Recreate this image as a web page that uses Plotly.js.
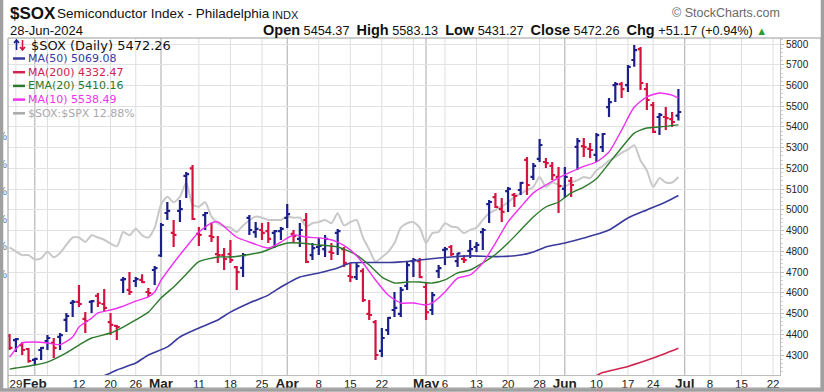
<!DOCTYPE html>
<html><head><meta charset="utf-8">
<script src="https://cdn.plot.ly/plotly-3.0.1.min.js"></script>
<style>html,body{margin:0;padding:0;background:#fff}#c{width:824px;height:392px}</style>
</head><body><div id="c"></div><script>
// ---------- DATA ----------
const tradingDays = {
  '2024-01':[26,29,30,31],
  '2024-02':[1,2,5,6,7,8,9,12,13,14,15,16,20,21,22,23,26,27,28,29],
  '2024-03':[1,4,5,6,7,8,11,12,13,14,15,18,19,20,21,22,25,26,27,28],
  '2024-04':[1,2,3,4,5,8,9,10,11,12,15,16,17,18,19,22,23,24,25,26,29,30],
  '2024-05':[1,2,3,6,7,8,9,10,13,14,15,16,17,20,21,22,23,24,28,29,30,31],
  '2024-06':[3,4,5,6,7,10,11,12,13,14,17,18,20,21,24,25,26,27,28]
};
const futureDays = {'2024-07':[1,2,3,5,8,9,10,11,12,15,16,17,18,19,22,23]};

const open = [4392,4372,4348,4329,4276,4324,4367,4358,4387,4469,4551,4556,4474,4556,4585,4546,4459,4440,4662,4614,
  4657,4662,4604,4710,4780,4985,4889,4995,5164,5200,4884,4975,4874,4787,4782,4787,4724,4720,4961,4893,
  4903,4898,4889,4898,4961,4884,4860,4951,4782,4821,4811,4797,4889,4811,4681,4676,4705,4498,4459,4320,
  4420,4517,4498,4633,4753,4753,4628,4517,4705,4807,4821,4753,4763,4802,4821,4893,5028,5062,5004,5091,
  5072,5096,5241,5159,5246,5231,5212,5159,5101,5140,5304,5308,5294,5265,5303,5496,5602,5607,5602,5723,
  5776,5583,5506,5448,5448,5438,5454.37];
const high = [4401,4382,4363,4334,4286,4339,4396,4382,4406,4503,4565,4638,4507,4565,4599,4618,4503,4445,4676,4700,
  4676,4690,4623,4729,4937,5038,4951,5048,5183,5217,4917,4990,4937,4874,4816,4855,4729,4792,4975,4942,
  4937,4942,4903,4917,5028,4903,4937,4985,4840,4865,4879,4840,4908,4821,4744,4744,4719,4565,4469,4430,
  4483,4604,4628,4749,4768,4768,4652,4604,4734,4821,4831,4792,4782,4855,4845,4913,5048,5082,5057,5110,
  5082,5135,5255,5226,5342,5250,5231,5207,5207,5159,5347,5347,5323,5371,5371,5540,5617,5617,5699,5795,
  5786,5612,5520,5467,5496,5472,5583.13];
const low = [4324,4314,4300,4262,4252,4276,4324,4286,4324,4411,4483,4531,4406,4503,4531,4507,4396,4372,4599,4589,
  4628,4647,4580,4638,4773,4951,4821,4942,5057,4951,4826,4903,4845,4744,4710,4744,4614,4676,4879,4865,
  4855,4840,4816,4855,4913,4840,4821,4744,4758,4782,4773,4758,4782,4724,4652,4662,4556,4469,4276,4290,
  4396,4483,4483,4614,4676,4671,4469,4493,4671,4734,4778,4724,4744,4768,4797,4807,4937,5009,4942,4990,
  5014,5072,5072,5144,5231,5202,5144,4985,5057,5062,5192,5255,5250,5231,5279,5448,5520,5540,5569,5690,
  5578,5482,5371,5361,5385,5400,5431.27];
const close = [4334,4377,4324,4271,4281,4334,4382,4334,4396,4488,4556,4546,4464,4560,4551,4527,4445,4435,4666,4604,
  4666,4652,4599,4719,4927,4995,4879,5004,5173,4956,4879,4985,4869,4782,4763,4758,4700,4782,4903,4908,
  4889,4860,4898,4908,4980,4874,4903,4749,4816,4826,4860,4792,4898,4744,4676,4729,4565,4493,4300,4382,
  4479,4527,4614,4734,4758,4676,4507,4589,4719,4811,4787,4790,4758,4811,4831,4903,5038,5014,4990,5101,
  5067,5130,5120,5212,5313,5226,5168,5115,5159,5120,5332,5303,5289,5361,5366,5520,5607,5583,5690,5771,
  5612,5530,5376,5458,5443,5424,5472.26];

const ma10Dates = ['2024-01-26','2024-01-30','2024-02-01','2024-02-05','2024-02-07','2024-02-09','2024-02-12','2024-02-14','2024-02-15','2024-02-20','2024-02-22','2024-02-26','2024-02-28','2024-02-29','2024-03-01','2024-03-05','2024-03-07','2024-03-11','2024-03-13','2024-03-14','2024-03-15','2024-03-19','2024-03-21','2024-03-26','2024-03-28','2024-04-02','2024-04-04','2024-04-09','2024-04-11','2024-04-15','2024-04-17','2024-04-19','2024-04-23','2024-04-25','2024-04-29','2024-05-01','2024-05-02','2024-05-06','2024-05-08','2024-05-10','2024-05-14','2024-05-16','2024-05-20','2024-05-22','2024-05-24','2024-05-29','2024-05-31','2024-06-04','2024-06-06','2024-06-10','2024-06-12','2024-06-14','2024-06-18','2024-06-21','2024-06-25','2024-06-27','2024-06-28'];
const ma10Values = [4290,4358,4363,4358,4350,4387,4435,4478,4503,4517,4535,4560,4580,4604,4660,4744,4821,4893,4937,4942,4920,4868,4845,4816,4845,4879,4869,4862,4845,4807,4744,4662,4589,4551,4551,4541,4551,4604,4671,4686,4744,4840,4942,5014,5082,5120,5154,5183,5210,5231,5279,5385,5496,5545,5564,5554,5538.49];

const ema20Dates = ['2024-01-26','2024-01-29','2024-02-01','2024-02-05','2024-02-08','2024-02-12','2024-02-14','2024-02-20','2024-02-22','2024-02-26','2024-02-28','2024-03-01','2024-03-05','2024-03-07','2024-03-11','2024-03-14','2024-03-18','2024-03-21','2024-03-25','2024-03-27','2024-04-01','2024-04-03','2024-04-08','2024-04-11','2024-04-16','2024-04-18','2024-04-22','2024-04-24','2024-04-26','2024-04-30','2024-05-02','2024-05-06','2024-05-08','2024-05-10','2024-05-14','2024-05-16','2024-05-20','2024-05-22','2024-05-24','2024-05-29','2024-05-31','2024-06-04','2024-06-06','2024-06-10','2024-06-12','2024-06-14','2024-06-18','2024-06-21','2024-06-25','2024-06-28'];
const ema20Values = [4232,4237,4252,4266,4310,4348,4382,4406,4435,4469,4507,4575,4628,4690,4750,4773,4773,4785,4797,4821,4840,4840,4831,4821,4782,4734,4676,4647,4652,4652,4647,4662,4696,4710,4744,4785,4840,4903,4966,5014,5038,5082,5110,5150,5225,5300,5370,5395,5400,5410.16];

const ma50Dates = ['2024-02-16','2024-02-20','2024-02-21','2024-02-26','2024-02-28','2024-03-04','2024-03-06','2024-03-11','2024-03-14','2024-03-18','2024-03-21','2024-03-26','2024-03-28','2024-04-01','2024-04-03','2024-04-08','2024-04-11','2024-04-15','2024-04-18','2024-04-23','2024-04-25','2024-04-30','2024-05-03','2024-05-07','2024-05-10','2024-05-15','2024-05-17','2024-05-22','2024-05-24','2024-05-29','2024-06-03','2024-06-06','2024-06-12','2024-06-17','2024-06-21','2024-06-26','2024-06-28'];
const ma50Values = [4200,4213,4228,4261,4300,4339,4387,4430,4469,4507,4551,4589,4628,4645,4676,4696,4720,4744,4746,4746,4749,4758,4768,4773,4778,4775,4775,4782,4797,4821,4840,4864,4903,4961,5000,5038,5069.08];

const ma200Dates = ['2024-06-10','2024-06-11','2024-06-17','2024-06-24','2024-06-28'];
const ma200Values = [4200,4215,4245,4285,4332.47];

const ratioDates = ['2024-01-26','2024-01-30','2024-01-31','2024-02-01','2024-02-02','2024-02-05','2024-02-06','2024-02-07','2024-02-09','2024-02-12','2024-02-13','2024-02-14','2024-02-15','2024-02-16','2024-02-21','2024-02-22','2024-02-23','2024-02-26','2024-02-27','2024-02-28','2024-02-29','2024-03-01','2024-03-04','2024-03-05','2024-03-06','2024-03-07','2024-03-08','2024-03-11','2024-03-12','2024-03-13','2024-03-14','2024-03-15','2024-03-18','2024-03-19','2024-03-20','2024-03-22','2024-03-25','2024-03-26','2024-03-27','2024-03-28','2024-04-01','2024-04-02','2024-04-03','2024-04-04','2024-04-05','2024-04-08','2024-04-09','2024-04-10','2024-04-11','2024-04-12','2024-04-15','2024-04-16','2024-04-17','2024-04-18','2024-04-19','2024-04-22','2024-04-23','2024-04-24','2024-04-25','2024-04-26','2024-04-29','2024-04-30','2024-05-01','2024-05-02','2024-05-03','2024-05-06','2024-05-07','2024-05-08','2024-05-09','2024-05-10','2024-05-13','2024-05-14','2024-05-15','2024-05-16','2024-05-17','2024-05-20','2024-05-21','2024-05-23','2024-05-24','2024-05-28','2024-05-29','2024-05-30','2024-05-31','2024-06-03','2024-06-04','2024-06-05','2024-06-06','2024-06-07','2024-06-10','2024-06-11','2024-06-12','2024-06-13','2024-06-14','2024-06-17','2024-06-18','2024-06-20','2024-06-21','2024-06-24','2024-06-25','2024-06-26','2024-06-27','2024-06-28'];
const ratioValues = [12.24,12.17,12.17,12.13,12.14,12.20,12.15,12.19,12.33,12.33,12.29,12.35,12.33,12.31,12.25,12.38,12.35,12.41,12.35,12.33,12.42,12.63,12.70,12.65,12.70,12.83,12.63,12.61,12.65,12.52,12.46,12.43,12.42,12.38,12.44,12.52,12.51,12.49,12.49,12.49,12.52,12.51,12.51,12.43,12.46,12.47,12.49,12.46,12.55,12.44,12.47,12.49,12.33,12.22,12.11,12.15,12.20,12.28,12.42,12.46,12.47,12.42,12.28,12.37,12.38,12.46,12.43,12.42,12.37,12.40,12.42,12.49,12.55,12.58,12.61,12.65,12.70,12.76,12.79,12.88,12.79,12.83,12.81,12.79,12.83,12.85,12.88,12.87,12.94,12.98,13.03,13.06,13.10,13.13,13.17,13.03,12.94,12.79,12.87,12.83,12.83,12.88];

const priceTicks = [4300,4400,4500,4600,4700,4800,4900,5000,5100,5200,5300,5400,5500,5600,5700,5800];
const ratioTicks = [12,12.25,12.5,12.75,13,13.25];
const ratioTickText = ['12.00%','12.25%','12.50%','12.75%','13.00%','13.25%'];

const tickDates = ['2024-01-29','2024-02-01','2024-02-12','2024-02-20','2024-02-26','2024-03-01','2024-03-11','2024-03-18','2024-03-25','2024-04-01','2024-04-08','2024-04-15','2024-04-22','2024-05-01','2024-05-06','2024-05-13','2024-05-20','2024-05-28','2024-06-03','2024-06-10','2024-06-17','2024-06-24','2024-07-01','2024-07-08','2024-07-15','2024-07-22'];
const tickLabels = ['29','Feb','12','20','26','Mar','11','18','25','Apr','8','15','22','May','6','13','20','28','Jun','10','17','24','Jul','8','15','22'];
const weekLineDates = ['2024-01-29','2024-02-05','2024-02-12','2024-02-20','2024-02-26','2024-03-11','2024-03-18','2024-03-25','2024-04-08','2024-04-15','2024-04-22','2024-04-29','2024-05-06','2024-05-13','2024-05-20','2024-05-28','2024-06-10','2024-06-17','2024-06-24','2024-07-08','2024-07-15','2024-07-22'];
const monthLineDates = ['2024-02-01','2024-03-01','2024-04-01','2024-05-01','2024-06-03','2024-07-01'];

const legendItems = [
  {text:'MA(50) 5069.08', color:'#3a3a9c'},
  {text:'MA(200) 4332.47', color:'#cf2450'},
  {text:'EMA(20) 5410.16', color:'#2c7a2c'},
  {text:'MA(10) 5538.49', color:'#ee33ee'},
  {text:'$SOX:$SPX 12.88%', color:'#a9a9a9'}
];

// ---------- BUILD ----------
const dates = [];
for (const ym in tradingDays) for (const d of tradingDays[ym]) dates.push(ym + '-' + String(d).padStart(2,'0'));
const fut = [];
for (const ym in futureDays) for (const d of futureDays[ym]) fut.push(ym + '-' + String(d).padStart(2,'0'));
const allDates = dates.concat(fut);
const ix = d => allDates.indexOf(d);

const UP = '#1b1f8a', DN = '#d6133f';
const upI = [], dnI = [];
dates.forEach((d,i) => { const up = i>0 ? close[i] >= close[i-1] : close[i] >= open[i]; (up?upI:dnI).push(i); });
function ohlcTrace(ids, col){
  return {type:'ohlc', xaxis:'x', yaxis:'y2', x:ids, open:ids.map(i=>open[i]), high:ids.map(i=>high[i]),
    low:ids.map(i=>low[i]), close:ids.map(i=>close[i]), tickwidth:0.45,
    increasing:{line:{color:col,width:2.2}}, decreasing:{line:{color:col,width:2.2}}, hoverinfo:'skip'};
}
function lineTrace(ds, vs, col, w, ax){
  return {type:'scatter', mode:'lines', x:ds.map(ix), y:vs, yaxis:ax||'y2', xaxis:'x',
    line:{color:col, width:w, shape:'spline', smoothing:0.6}, hoverinfo:'skip', cliponaxis:true};
}
const traces = [
  lineTrace(ratioDates, ratioValues, '#c8c8c8', 2, 'y'),
  lineTrace(ma200Dates, ma200Values, '#cf2450', 1.6),
  lineTrace(ma50Dates, ma50Values, '#3a3a9c', 1.6),
  lineTrace(ema20Dates, ema20Values, '#2c7a2c', 1.4),
  lineTrace(ma10Dates, ma10Values, '#f030f0', 1.4),
  ohlcTrace(upI, UP),
  ohlcTrace(dnI, DN)
];

// pixel helpers for decorations
const L=8, T=38, W=772, H=337;
const px = x => (x-L)/W, py = y => (T+H-y)/H;

const shapes = [];
weekLineDates.forEach(d => shapes.push({type:'line', xref:'x', yref:'paper', x0:ix(d), x1:ix(d), y0:0, y1:1, layer:'below', line:{color:'#dedede', width:1}}));
monthLineDates.forEach(d => shapes.push({type:'line', xref:'x', yref:'paper', x0:ix(d), x1:ix(d), y0:0, y1:1, layer:'below', line:{color:'#a9a9a9', width:1}}));
// frame
shapes.push({type:'rect', xref:'paper', yref:'paper', x0:px(8), x1:px(821), y0:py(38), y1:py(388), line:{color:'#9a9a9a', width:1}, layer:'above'});
shapes.push({type:'rect', xref:'paper', yref:'paper', x0:px(1.5), x1:px(822.5), y0:py(-2), y1:py(390), line:{color:'#a0a0a0', width:3.5}, layer:'above'});
// legend "up/down" icon: two small arrows drawn as paths
const arrowUp = 'M '+0+' 0';
function arrowPath(xc, yTop, yBot, up){
  const X = v => px(v), Y = v => py(v);
  const tip = up ? yTop : yBot, tail = up ? yBot : yTop, d = up ? 3 : -3;
  return 'M '+X(xc)+','+Y(tail)+' L '+X(xc)+','+Y(tip)+' M '+X(xc-2.5)+','+Y(tip+d)+' L '+X(xc)+','+Y(tip)+' L '+X(xc+2.5)+','+Y(tip+d);
}
shapes.push({type:'path', xref:'paper', yref:'paper', path:arrowPath(16.5,40,50,true), line:{color:UP, width:1.6}, layer:'above'});
shapes.push({type:'path', xref:'paper', yref:'paper', path:arrowPath(22.5,40,50,false), line:{color:DN, width:1.6}, layer:'above'});

const ann = [];
function A(x,y,text,opt){ ann.push(Object.assign({xref:'paper', yref:'paper', x:px(x), y:py(y), text:text, showarrow:false, xanchor:'left', yanchor:'middle', borderpad:0, font:{family:'Liberation Sans, Arial', size:12, color:'#111'}}, opt||{})); }
A(9,13.5,'<b>$SOX</b>',{font:{family:'Liberation Sans, Arial', size:17, color:'#111'}});
A(56,14,'Semiconductor Index - Philadelphia',{font:{family:'Liberation Sans, Arial', size:13.5, color:'#111'}});
A(271,14.5,'INDX',{font:{family:'Liberation Sans, Arial', size:11, color:'#222'}});
A(9,30,'28-Jun-2024',{font:{family:'Liberation Sans, Arial', size:13, color:'#111'}});
const B = s => '<span style="font-size:14.5px"><b>'+s+'</b></span>';
const sp = '&nbsp;&nbsp;';
A(768,30, B('Open')+' 5454.37'+sp+B('High')+' 5583.13'+sp+B('Low')+' 5431.27'+sp+B('Close')+' 5472.26'+sp+B('Chg')+' +51.17 (+0.94%) <span style="color:#2f9a2f;font-size:11px">▲</span>',
  {xanchor:'right', font:{family:'Liberation Sans, Arial', size:12.7, color:'#111'}});
A(781,13,'© StockCharts.com',{xanchor:'right', font:{family:'Liberation Sans, Arial', size:12.5, color:'#6a6a6a'}});
// legend
A(29.5,45,'$SOX (Daily) 5472.26',{font:{family:'DejaVu Sans', size:13, color:'#111'}});
legendItems.forEach((it,k) => {
  const y = 58.5 + k*13.7;
  shapes.push({type:'line', xref:'paper', yref:'paper', x0:px(13), x1:px(25), y0:py(y), y1:py(y), line:{color:it.color, width:2.5}, layer:'above'});
  A(26.5, y, it.text, {font:{family:'DejaVu Sans', size:11, color:it.color}});
});

const tickText = tickLabels.map(t => /[A-Za-z]/.test(t) ? '<span style="font-size:13.5px"><b>'+t+'</b></span>' : t);

const layout = {
  width:824, height:392, margin:{l:L, r:824-L-W, t:T, b:392-T-H, pad:0},
  paper_bgcolor:'#fff', plot_bgcolor:'#fff', showlegend:false,
  font:{family:'Liberation Sans, Arial', color:'#111'},
  xaxis:{range:[-0.25,122.1], tickmode:'array', tickvals:tickDates.map(ix), ticktext:tickText, tickangle:0,
    showgrid:false, zeroline:false, ticks:'', showline:true, linecolor:'#bdbdbd', linewidth:1, ticklabelstandoff:-2,
    tickfont:{family:'Liberation Sans, Arial', size:11.5, color:'#222'}, rangeslider:{visible:false}, fixedrange:true},
  yaxis:{range:[11.08,14.144], side:'left', tickmode:'array', tickvals:ratioTicks, ticktext:ratioTickText,
    showgrid:false, zeroline:false, showline:false, ticks:'', tickfont:{size:11, color:'#777'}, fixedrange:true},
  yaxis2:{overlaying:'y', side:'right', range:[4203.5,5829.2], tickmode:'array', tickvals:priceTicks,
    showgrid:true, gridcolor:'#e2e2e2', gridwidth:1, zeroline:false, showline:true, linecolor:'#bdbdbd', linewidth:1,
    ticks:'outside', ticklen:3, tickcolor:'#bdbdbd',
    minor:{tickmode:'linear', tick0:4300, dtick:20, ticks:'outside', ticklen:2, tickcolor:'#cfcfcf', showgrid:false},
    tickfont:{family:'Liberation Sans, Arial', size:10, color:'#222'}, fixedrange:true},
  shapes:shapes, annotations:ann
};
Plotly.newPlot('c', traces, layout, {staticPlot:true, displayModeBar:false});
</script></body></html>
